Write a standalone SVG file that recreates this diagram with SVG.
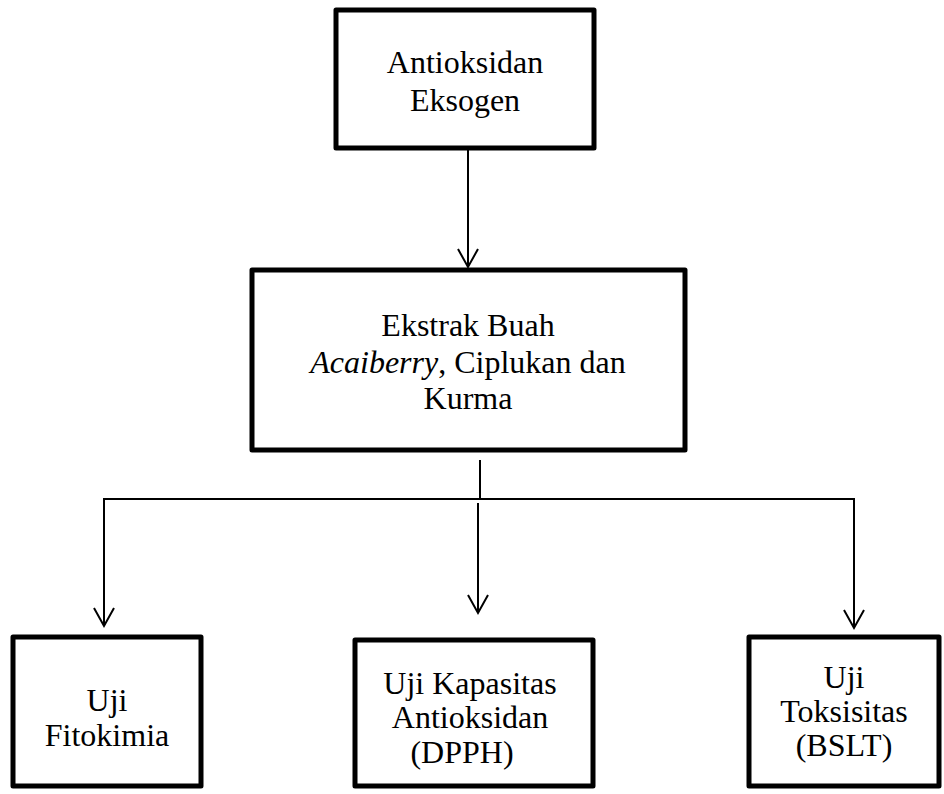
<svg xmlns="http://www.w3.org/2000/svg" width="944" height="794" viewBox="0 0 944 794">
<defs>
<style>
.box{fill:#fff;stroke:#000;stroke-width:5;stroke-linejoin:round}
.t{font-family:"Liberation Serif","Times New Roman",serif;font-size:32px;fill:#000;text-anchor:middle}
.c{fill:none;stroke:#000;stroke-width:2}
.ah{fill:none;stroke:#000;stroke-width:2;stroke-linejoin:miter}
</style>
<marker id="arr" viewBox="0 0 24 20" refX="12" refY="19" markerWidth="24" markerHeight="20" markerUnits="userSpaceOnUse" orient="auto-start-reverse">
<path d="M2,1 L12,19 L22,1" fill="none" stroke="#000" stroke-width="2"/>
</marker>
</defs>
<rect width="944" height="794" fill="#fff"/>
<g id="connectors">
<line class="c" x1="468" y1="150" x2="468" y2="267"/>
<path class="ah" d="M458,249 L468,267 L478,249"/>
<line class="c" x1="480" y1="460" x2="480" y2="499"/>
<line class="c" x1="103" y1="499" x2="855" y2="499"/>
<line class="c" x1="104" y1="498" x2="104" y2="626"/>
<path class="ah" d="M94,608 L104,626 L114,608"/>
<line class="c" x1="478" y1="503" x2="478" y2="613"/>
<path class="ah" d="M468,595 L478,613 L488,595"/>
<line class="c" x1="854" y1="498" x2="854" y2="628"/>
<path class="ah" d="M844,610 L854,628 L864,610"/>
</g>
<g id="n1">
<rect class="box" x="336" y="10" width="258" height="138"/>
<text class="t" x="465" y="73">Antioksidan</text>
<text class="t" x="465" y="111">Eksogen</text>
</g>
<g id="n2">
<rect class="box" x="252" y="270" width="433" height="180"/>
<text class="t" x="468" y="336">Ekstrak Buah</text>
<text class="t" x="468" y="373"><tspan font-style="italic">Acaiberry</tspan>, Ciplukan dan</text>
<text class="t" x="468" y="409">Kurma</text>
</g>
<g id="n3">
<rect class="box" x="13" y="637" width="188" height="149"/>
<text class="t" x="107" y="711">Uji</text>
<text class="t" x="107" y="746">Fitokimia</text>
</g>
<g id="n4">
<rect class="box" x="355" y="640" width="238" height="146"/>
<text class="t" x="470" y="694">Uji Kapasitas</text>
<text class="t" x="470" y="728">Antioksidan</text>
<text class="t" x="462" y="763">(DPPH)</text>
</g>
<g id="n5">
<rect class="box" x="749" y="637" width="190" height="149"/>
<text class="t" x="844" y="688">Uji</text>
<text class="t" x="844" y="722">Toksisitas</text>
<text class="t" x="844" y="756">(BSLT)</text>
</g>
</svg>
